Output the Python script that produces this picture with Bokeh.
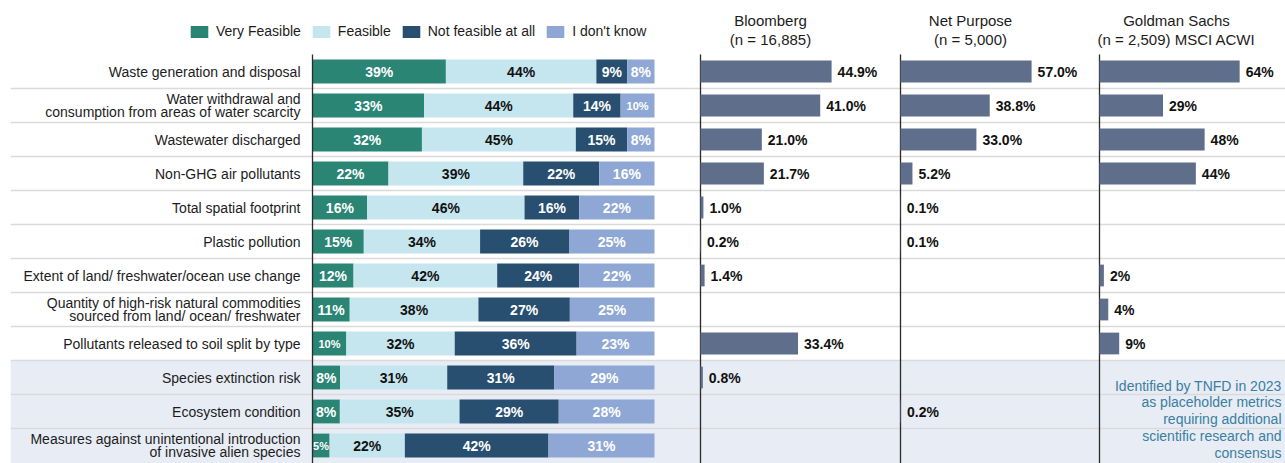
from bokeh.plotting import figure
from bokeh.models import ColumnDataSource, Range1d, BoxAnnotation, Legend, LegendItem
from bokeh.embed import file_html
from bokeh.resources import INLINE
from bokeh.core.properties import value

# ---------------- data ----------------
categories = [
    "Waste generation and disposal",
    "Water withdrawal and\nconsumption from areas of water scarcity",
    "Wastewater discharged",
    "Non-GHG air pollutants",
    "Total spatial footprint",
    "Plastic pollution",
    "Extent of land/ freshwater/ocean use change",
    "Quantity of high-risk natural commodities\nsourced from land/ ocean/ freshwater",
    "Pollutants released to soil split by type",
    "Species extinction risk",
    "Ecosystem condition",
    "Measures against unintentional introduction\nof invasive alien species",
]
series_names = ["Very Feasible", "Feasible", "Not feasible at all", "I don't know"]
very_feasible = [39, 33, 32, 22, 16, 15, 12, 11, 10, 8, 8, 5]
feasible = [44, 44, 45, 39, 46, 34, 42, 38, 32, 31, 35, 22]
not_feasible = [9, 14, 15, 22, 16, 26, 24, 27, 36, 31, 29, 42]
dont_know = [8, 10, 8, 16, 22, 25, 22, 25, 23, 29, 28, 31]

bloomberg = [44.9, 41.0, 21.0, 21.7, 1.0, 0.2, 1.4, None, 33.4, 0.8, None, None]
net_purpose = [57.0, 38.8, 33.0, 5.2, 0.1, 0.1, None, None, None, None, 0.2, None]
goldman = [64, 29, 48, 44, None, None, 2, 4, 9, None, None, None]

panel_titles = [("Bloomberg", "(n = 16,885)"),
                ("Net Purpose", "(n = 5,000)"),
                ("Goldman Sachs", "(n = 2,509) MSCI ACWI")]
first_placeholder = "Species extinction risk"
note = ("Identified by TNFD in 2023\nas placeholder metrics\nrequiring additional\n"
        "scientific research and\nconsensus")

# ---------------- style / geometry ----------------
FONT = "Liberation Sans"
COLORS = ["#2A8575", "#C6E6EF", "#284F70", "#8EA7D4"]
LABEL_COLORS = ["white", "#111111", "white", "white"]
BAR = "#5F6E8B"
SHADE = "#E8ECF4"
SEP = "#DADADA"
AXIS = "#2B2B2B"
NOTE = "#3A7EA1"
TXT = "#1c1c1c"

W, H = 1285, 463
BORDER_L = 10
FRAME_W = W - BORDER_L
ROW_PX = 34
HEAD = 54                      # header height above the first row
y_top = -0.5 - HEAD / ROW_PX
y_end = -0.5 + (H - HEAD) / ROW_PX
ypos = list(range(len(categories)))
band_top = categories.index(first_placeholder) - 0.5


def panel_range(axis_px, px_per_unit):
    start = -(axis_px - BORDER_L) / px_per_unit
    return Range1d(start, start + FRAME_W / px_per_unit)


ranges = {
    "left": panel_range(312, 3.42),
    "bloomberg": panel_range(700, 2.92),
    "netpurpose": panel_range(900, 2.30),
    "goldman": panel_range(1099, 2.19),
}

p = figure(width=W, height=H, x_range=ranges["left"], y_range=Range1d(y_end, y_top),
           x_axis_location=None, y_axis_location=None, toolbar_location=None,
           output_backend="svg", min_border_left=BORDER_L, min_border_right=0,
           min_border_top=0, min_border_bottom=0)
p.extra_x_ranges = {k: v for k, v in ranges.items() if k != "left"}
p.outline_line_color = None
p.grid.visible = False

# shaded band (TNFD placeholder metrics) and row separators
p.add_layout(BoxAnnotation(top=band_top, bottom=y_end + 1, fill_color=SHADE, fill_alpha=1,
                           line_color=None, level="underlay"))
p.hspan(y=[i + 0.5 for i in ypos[:-1]], line_color=SEP, line_width=1.5)

# ---------------- left panel: stacked feasibility bars ----------------
series = [very_feasible, feasible, not_feasible, dont_know]
keys = ["vf", "f", "nf", "dk"]
totals = [sum(s[i] for s in series) for i in ypos]
src = ColumnDataSource(dict(y=ypos, **{k: [v * 100 / t for v, t in zip(s, totals)]
                                      for k, s in zip(keys, series)}))
rs = p.hbar_stack(keys, y="y", height=0.7, fill_color=COLORS, line_color=None, source=src)

lab = dict(x=[], y=[], t=[], c=[], s=[])
for i in ypos:
    cum = 0
    for s, tc in zip(series, LABEL_COLORS):
        v = s[i]
        w = v * 100 / totals[i]
        txt = f"{v}%"
        txt_w = 7.5 * (len(txt) - 1) + 12
        lab["x"].append(cum + w / 2)
        lab["y"].append(i)
        lab["t"].append(txt)
        lab["c"].append(tc)
        lab["s"].append("14px" if txt_w + 7 <= w * 3.42 else "11px")
        cum += w
p.text(x="x", y="y", text="t", text_color="c", text_font_size="s", source=ColumnDataSource(lab),
       text_align="center", text_baseline="middle", text_font=value(FONT), text_font_style="bold")

p.text(x=[0] * len(ypos), y=ypos, text=categories, x_offset=-12, text_align="right",
       text_baseline="middle", text_font=value(FONT), text_font_size="14px",
       text_line_height=0.85, text_color=TXT)

legend = Legend(items=[LegendItem(label=n, renderers=[r]) for n, r in zip(series_names, rs)],
                orientation="horizontal", location=(178, H - 41),
                border_line_color=None, background_fill_alpha=0, padding=0, margin=0,
                spacing=9, label_standoff=6, glyph_width=22, glyph_height=15, label_height=20,
                label_text_font=FONT, label_text_font_size="14px", label_text_color=TXT)
p.add_layout(legend, "center")

# vertical axis lines for all four panels
for name in ranges:
    kw = {} if name == "left" else {"x_range_name": name}
    p.segment(x0=[0], y0=[-0.5], x1=[0], y1=[y_end], line_color=AXIS, line_width=1.3, **kw)

# ---------------- right panels ----------------
panels = [("bloomberg", bloomberg, "{:.1f}%", 70),
          ("netpurpose", net_purpose, "{:.1f}%", 70),
          ("goldman", goldman, "{:.0f}%", 77)]
for (name, vals, fmt, title_dx), titles in zip(panels, panel_titles):
    ys = [i for i, v in zip(ypos, vals) if v is not None]
    xs = [v for v in vals if v is not None]
    p.hbar(y=ys, left=0, right=xs, height=0.64, fill_color=BAR, line_color=None,
           x_range_name=name)
    p.text(x=xs, y=ys, text=[fmt.format(v) for v in xs], x_offset=6, text_align="left",
           text_baseline="middle", text_font=value(FONT), text_font_size="14px",
           text_font_style="bold", text_color="#111111", x_range_name=name)
    p.text(x=[0, 0], y=[-1.5, -0.95], text=list(titles), x_offset=title_dx, text_align="center",
           text_baseline="middle", text_font=value(FONT), text_font_size="15px",
           text_color=TXT, x_range_name=name)

g = ranges["goldman"]
p.text(x=[g.end], y=[band_top + 0.5], text=[note], x_offset=-4, text_align="right",
       text_baseline="top", text_font=value(FONT), text_font_size="14px",
       text_line_height=1.05, text_color=NOTE, x_range_name="goldman")

open("out.html", "w").write(file_html(p, INLINE))
